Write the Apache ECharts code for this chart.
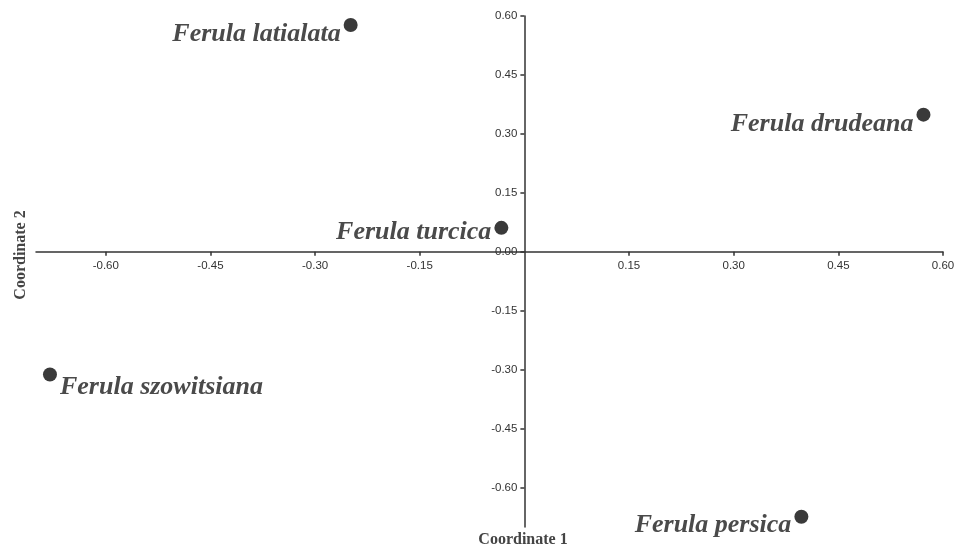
<!DOCTYPE html>
<html><head><meta charset="utf-8">
<script src="https://cdn.jsdelivr.net/npm/echarts@6/dist/echarts.min.js"></script>
<style>html,body{margin:0;padding:0;background:#fff}#c{width:960px;height:548px}</style>
</head><body><div id="c"></div>
<script>
const species = ['Ferula latialata','Ferula drudeana','Ferula turcica','Ferula szowitsiana','Ferula persica'];
const coord1 = [-0.249, 0.572, -0.033, -0.680, 0.397];
const coord2 = [0.577, 0.349, 0.061, -0.312, -0.674];
const xTicks = [-0.60,-0.45,-0.30,-0.15,0.15,0.30,0.45,0.60];
const yTicks = [-0.60,-0.45,-0.30,-0.15,0.00,0.15,0.30,0.45,0.60];

const axMin = -0.7, axMax = 0.6;
const W = 960, H = 548;
const grid = {left:36, right:17, top:16, bottom:21};
const gw = W - grid.left - grid.right, gh = H - grid.top - grid.bottom;
// place axes through zero
const xOffset = -gh * (0 - axMin) / (axMax - axMin);
const yOffset = -gw * (0 - axMin) / (axMax - axMin);

const labelPlace = {
  'Ferula latialata': {position:'left', offset:[0,9]},
  'Ferula drudeana': {position:'left', offset:[0,10]},
  'Ferula turcica': {position:'left', offset:[0,4]},
  'Ferula szowitsiana': {position:'right', offset:[0,13]},
  'Ferula persica': {position:'left', offset:[0,9]}
};
const data = species.map((n,i)=>({name:n, value:[coord1[i],coord2[i]], label:Object.assign({show:true, distance:3}, labelPlace[n])}));

const chart = echarts.init(document.getElementById('c'));
const axisCommon = {
  type:'value', min:axMin, max:axMax,
  axisLine:{onZero:false, lineStyle:{color:'#333', width:1.5}},
  splitLine:{show:false},
};
chart.setOption({
  animation:false,
  grid:grid,
  xAxis:Object.assign({}, axisCommon, {
    position:'bottom', offset:xOffset,
    axisTick:{show:true, length:4, customValues:xTicks, lineStyle:{color:'#333', width:1.5}},
    axisLabel:{customValues:xTicks, formatter:v=>v.toFixed(2), color:'#333', fontFamily:'Liberation Sans', fontSize:11.5, margin:8}
  }),
  yAxis:Object.assign({}, axisCommon, {
    position:'left', offset:yOffset,
    axisTick:{show:true, length:4, customValues:yTicks, lineStyle:{color:'#333', width:1.5}},
    axisLabel:{customValues:yTicks, formatter:v=>v.toFixed(2), color:'#333', fontFamily:'Liberation Sans', fontSize:11.5, margin:7}
  }),
  graphic:[
    {type:'text', x:523, y:540, style:{text:'Coordinate 1', textAlign:'center', textVerticalAlign:'middle', font:'bold 16px "Liberation Serif"', fill:'#444'}},
    {type:'text', x:21, y:255, rotation:Math.PI/2, style:{text:'Coordinate 2', textAlign:'center', textVerticalAlign:'middle', font:'bold 16px "Liberation Serif"', fill:'#444'}}
  ],
  series:[{
    type:'scatter', symbolSize:14, itemStyle:{color:'#3a3a3a', opacity:1},
    label:{color:'#4a4a4a', fontFamily:'Liberation Serif', fontStyle:'italic', fontWeight:'bold', fontSize:26, formatter:'{b}'},
    data:data
  }]
});
</script></body></html>
